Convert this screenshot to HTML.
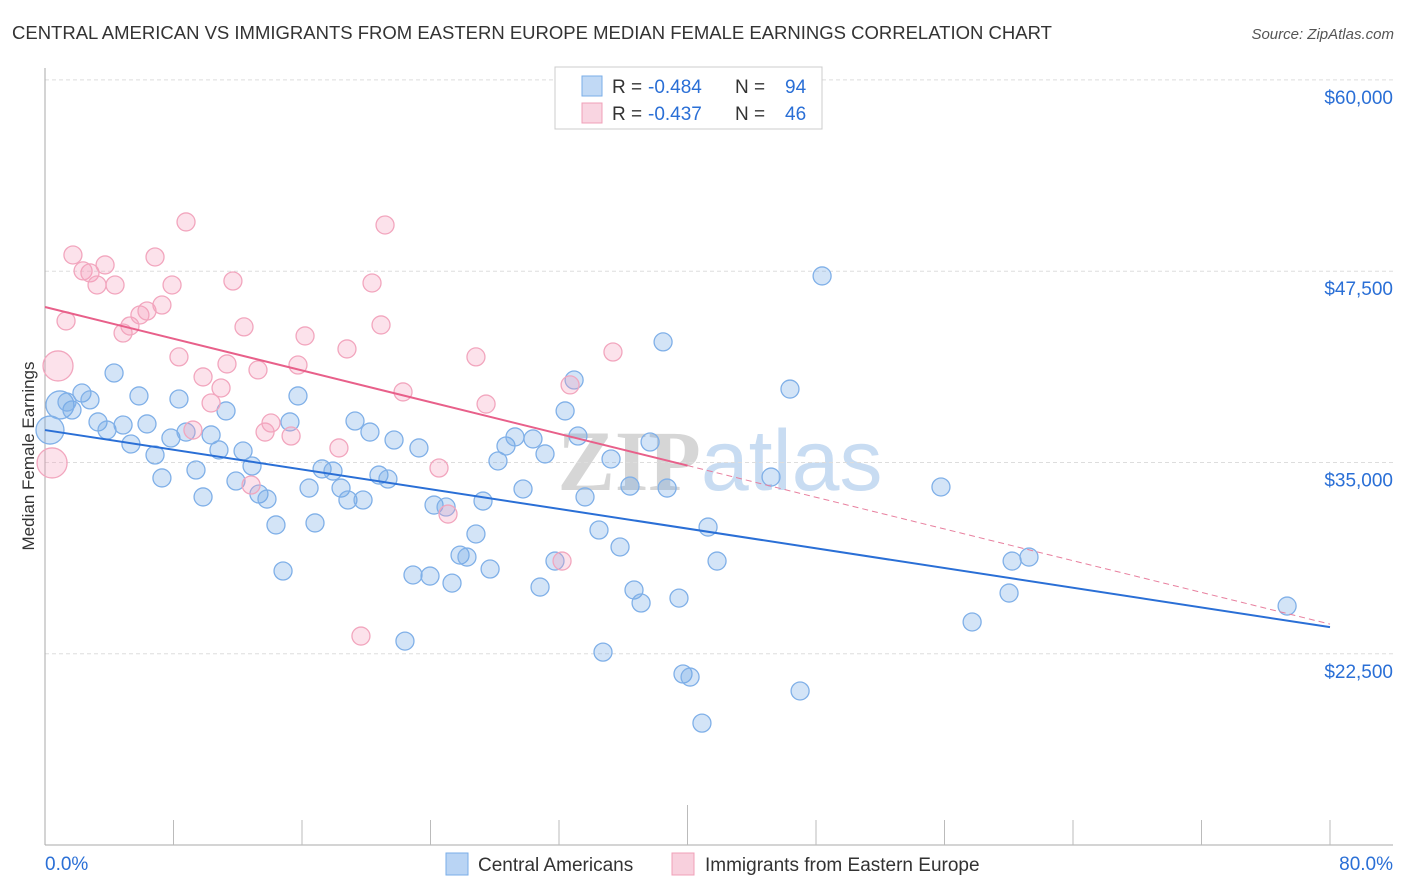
<!DOCTYPE html>
<html><head><meta charset="utf-8"><style>
body{margin:0;background:#fff;font-family:"Liberation Sans",sans-serif;}
svg{display:block}
</style></head><body>
<svg id="chart" width="1406" height="892" xmlns="http://www.w3.org/2000/svg">
<text x="12" y="39" font-size="18.5" fill="#333">CENTRAL AMERICAN VS IMMIGRANTS FROM EASTERN EUROPE MEDIAN FEMALE EARNINGS CORRELATION CHART</text>
<text x="1394" y="39" font-size="15" fill="#555" text-anchor="end" font-style="italic">Source: ZipAtlas.com</text>
<text x="720" y="490" font-size="86" fill="#d8e4f2" text-anchor="middle" font-family="Liberation Serif,serif" font-weight="bold"><tspan fill="#d6d6d6">ZIP</tspan><tspan font-family="Liberation Sans,sans-serif" font-weight="normal" fill="#c8dcf2">atlas</tspan></text>
<g id="grid"></g>
<g id="axes"></g>
<g id="marks"></g>
<text transform="translate(34,456) rotate(-90)" font-size="17" fill="#333" text-anchor="middle">Median Female Earnings</text>
<g>
<rect x="555" y="67" width="267" height="62" fill="#fff" stroke="#ccc"/>
<rect x="582" y="76" width="20" height="20" fill="rgba(100,160,230,0.4)" stroke="#7aaee8"/>
<text x="612" y="93" font-size="19" fill="#333">R =</text>
<text x="648" y="93" font-size="19" fill="#2a6fd6">-0.484</text>
<text x="735" y="93" font-size="19" fill="#333">N =</text>
<text x="785" y="93" font-size="19" fill="#2a6fd6">94</text>
<rect x="582" y="103" width="20" height="20" fill="rgba(240,150,180,0.4)" stroke="#f0a0b8"/>
<text x="612" y="120" font-size="19" fill="#333">R =</text>
<text x="648" y="120" font-size="19" fill="#2a6fd6">-0.437</text>
<text x="735" y="120" font-size="19" fill="#333">N =</text>
<text x="785" y="120" font-size="19" fill="#2a6fd6">46</text>
</g>
<g>
<rect x="446" y="853" width="22" height="22" fill="rgba(100,160,230,0.45)" stroke="#7aaee8"/>
<text x="478" y="871" font-size="19" fill="#333">Central Americans</text>
<rect x="672" y="853" width="22" height="22" fill="rgba(240,150,180,0.45)" stroke="#f0a0b8"/>
<text x="705" y="871" font-size="19" fill="#333">Immigrants from Eastern Europe</text>
</g>
</svg>
<script>
const blueX=[0.31,0.93,1.68,1.37,2.30,2.80,3.30,3.86,4.30,4.86,5.35,5.85,6.35,6.85,7.28,7.84,8.34,8.78,9.40,9.84,10.34,10.83,11.27,11.89,12.33,12.89,13.32,13.82,14.38,14.82,15.25,15.75,16.44,16.81,17.25,17.93,18.43,18.86,19.30,19.80,20.23,20.79,21.35,21.73,22.41,22.91,23.28,23.97,24.22,24.97,25.34,25.84,26.27,26.83,27.27,27.71,28.20,28.70,29.26,29.76,30.38,30.82,31.13,31.75,32.38,32.94,33.18,33.62,34.49,34.74,35.24,35.80,36.42,36.67,37.11,37.67,38.48,38.73,39.47,39.72,40.16,40.90,41.28,41.84,45.20,46.38,47.01,48.38,55.78,57.72,60.02,60.21,61.26,77.33];
const blueY=[37120,38760,38430,38950,39540,39090,37650,37120,40850,37450,36210,39350,37520,35490,33990,36600,39150,36990,34510,32750,36800,35820,38370,33790,35750,34770,32940,32610,30920,27910,37650,39350,33330,31050,34580,34440,33330,32550,37710,32550,36990,34180,33920,36470,23330,27650,35950,27580,32220,32090,27120,28950,28820,30330,32480,28040,35100,36080,36670,33270,36540,26860,35560,28560,38370,40390,36730,32750,30590,22610,35230,29480,33460,26670,25820,36340,42880,33330,26140,21180,20980,17970,30780,28560,34050,39800,20070,47190,33400,24580,26470,28560,28820,25620];
const blueBig=[0,1];
const pinkX=[0.44,0.81,1.31,1.74,2.37,2.80,3.24,3.74,4.36,4.86,5.29,5.91,6.35,6.85,7.28,7.91,8.34,8.78,9.21,9.84,10.34,10.96,11.33,11.70,12.39,12.83,13.26,13.70,14.07,15.32,15.75,16.19,18.30,18.80,19.67,20.36,20.92,21.17,22.29,24.53,25.09,26.83,27.46,32.19,32.69,35.36];
const pinkY=[34970,41310,44250,48560,47520,47390,46600,47910,46600,43460,43920,44640,44900,48430,45290,46600,41900,50720,37120,40590,38890,39870,41440,46860,43860,33530,41050,36990,37580,36730,41370,43270,35950,42420,23660,46730,43990,50520,39610,34640,31630,41900,38820,28560,40070,42220];
const pinkBig=[0,1];
const blueTrend=[[0,37120],[80,24240]];
const pinkTrend=[[0,45160],[40,34800],[80,24440]];
const yTicks=[60000,47500,35000,22500];
const yTickLabels=["$60,000","$47,500","$35,000","$22,500"];
const xTicks=[0,8,16,24,32,40,48,56,64,72,80];

const NS="http://www.w3.org/2000/svg";
const xS=v=>45+v/80*1285;
const yS=v=>462.5-(v-35000)*191.3/12500;
function mk(tag,attrs,parent){const e=document.createElementNS(NS,tag);for(const k in attrs)e.setAttribute(k,attrs[k]);parent.appendChild(e);return e;}
const grid=document.getElementById('grid'),axes=document.getElementById('axes'),marks=document.getElementById('marks');
yTicks.forEach((t,i)=>{
 const l=mk('line',{x1:45,x2:1393,y1:yS(t),y2:yS(t),stroke:'#ddd','stroke-dasharray':'4,3'},grid);
 
 
 const tx=mk('text',{x:1393,y:yS(t)+24,'font-size':19,fill:'#2a6fd6','text-anchor':'end'},axes);
 tx.textContent=yTickLabels[i];
 
 
});
let a=mk('line',{x1:45,x2:45,y1:68,y2:845,stroke:'#aaa'},axes);


a=mk('line',{x1:45,x2:1393,y1:845,y2:845,stroke:'#aaa'},axes);


xTicks.forEach(t=>{if(t===0)return;
 const l=mk('line',{x1:xS(t),x2:xS(t),y1:t===40?805:820,y2:845,stroke:'#bbb'},axes);
 
 
});
let t0=mk('text',{x:45,y:870,'font-size':19,fill:'#2a6fd6'},axes);t0.textContent='0.0%';


let t1=mk('text',{x:1393,y:870,'font-size':19,fill:'#2a6fd6','text-anchor':'end'},axes);t1.textContent='80.0%';



blueX.forEach((x,i)=>{
 const c=mk('circle',{cx:xS(x),cy:yS(blueY[i]),r:blueBig.includes(i)?14:9,fill:'rgba(110,165,230,0.3)',stroke:'#80b0e8','stroke-width':1.3},marks);
 
 
});
pinkX.forEach((x,i)=>{
 const c=mk('circle',{cx:xS(x),cy:yS(pinkY[i]),r:pinkBig.includes(i)?15:9,fill:'rgba(245,160,190,0.3)',stroke:'#f2a6be','stroke-width':1.3},marks);
 
 
});
let bl=mk('line',{x1:xS(blueTrend[0][0]),y1:yS(blueTrend[0][1]),x2:xS(blueTrend[1][0]),y2:yS(blueTrend[1][1]),stroke:'#2a6fd6','stroke-width':2},marks);


let pl=mk('line',{x1:xS(pinkTrend[0][0]),y1:yS(pinkTrend[0][1]),x2:xS(pinkTrend[1][0]),y2:yS(pinkTrend[1][1]),stroke:'#e8608a','stroke-width':2},marks);


let pd=mk('line',{x1:xS(pinkTrend[1][0]),y1:yS(pinkTrend[1][1]),x2:xS(pinkTrend[2][0]),y2:yS(pinkTrend[2][1]),stroke:'#e8809f','stroke-width':1,'stroke-dasharray':'6,4'},marks);


</script>
</body></html>
